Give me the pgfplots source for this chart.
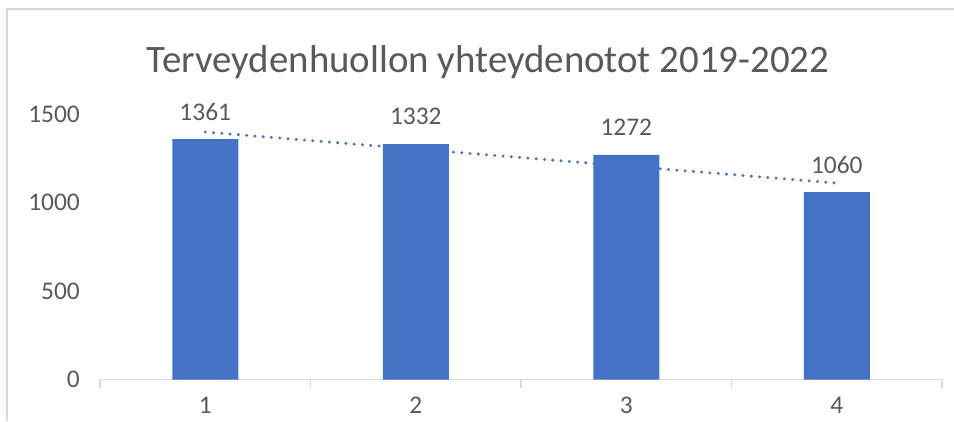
\documentclass[border=0pt]{standalone}
\usepackage{fontspec}
\setmainfont{Carlito}
\usepackage{pgfplots}
\pgfplotsset{compat=1.18}
\definecolor{barblue}{HTML}{4472C4}
\definecolor{txtgray}{HTML}{595959}
\definecolor{axgray}{HTML}{D9D9D9}
\begin{document}
\begin{tikzpicture}[x=1bp,y=1bp]
\useasboundingbox (0,0) rectangle (954,421);
\fill[white] (0,0) rectangle (954,421);
\draw[axgray, line width=2bp] (6.5,0) -- (6.5,412) -- (954,412);
\node[text=txtgray, font=\fontsize{39}{45}\selectfont] at (488,359) {Terveydenhuollon yhteydenotot 2019-2022};
\begin{axis}[
  at={(100bp,41.5bp)}, anchor=south west,
  scale only axis, width=842bp, height=265bp,
  xmin=0.5, xmax=4.5, ymin=0, ymax=1500,
  clip=false,
  /pgf/number format/assume math mode=true,
  /pgf/number format/1000 sep={},
  scaled y ticks=false,
  axis x line*=bottom, axis y line*=left,
  x axis line style={axgray, line width=1.5bp},
  y axis line style={draw=none},
  xtick={1,2,3,4}, ytick={0,500,1000,1500},
  minor xtick={0.5,1.5,2.5,3.5,4.5},
  major tick length=0pt, minor tick length=8bp,
  tick align=outside,
  minor tick style={axgray, line width=1.5bp},
  major tick style={draw=none},
  tick label style={text=txtgray, font=\fontsize{25.5}{30}\selectfont},
  xticklabel style={anchor=center, inner sep=0pt, yshift=-26bp},
  yticklabel style={anchor=east, inner sep=0pt, xshift=-20bp},
]
\addplot[ybar, bar width=66bp, fill=barblue, draw=none,
  nodes near coords,
  every node near coord/.append style={anchor=center, yshift=27.5bp, text=txtgray, font=\fontsize{25.5}{30}\selectfont}]
  coordinates {(1,1361) (2,1332) (3,1272) (4,1060)};
\addplot[barblue, line width=3.3bp, line cap=round, dash pattern=on 0bp off 8.3bp, mark=none]
  coordinates {(1,1400.7) (4,1111.8)};
\end{axis}
\end{tikzpicture}
\end{document}
